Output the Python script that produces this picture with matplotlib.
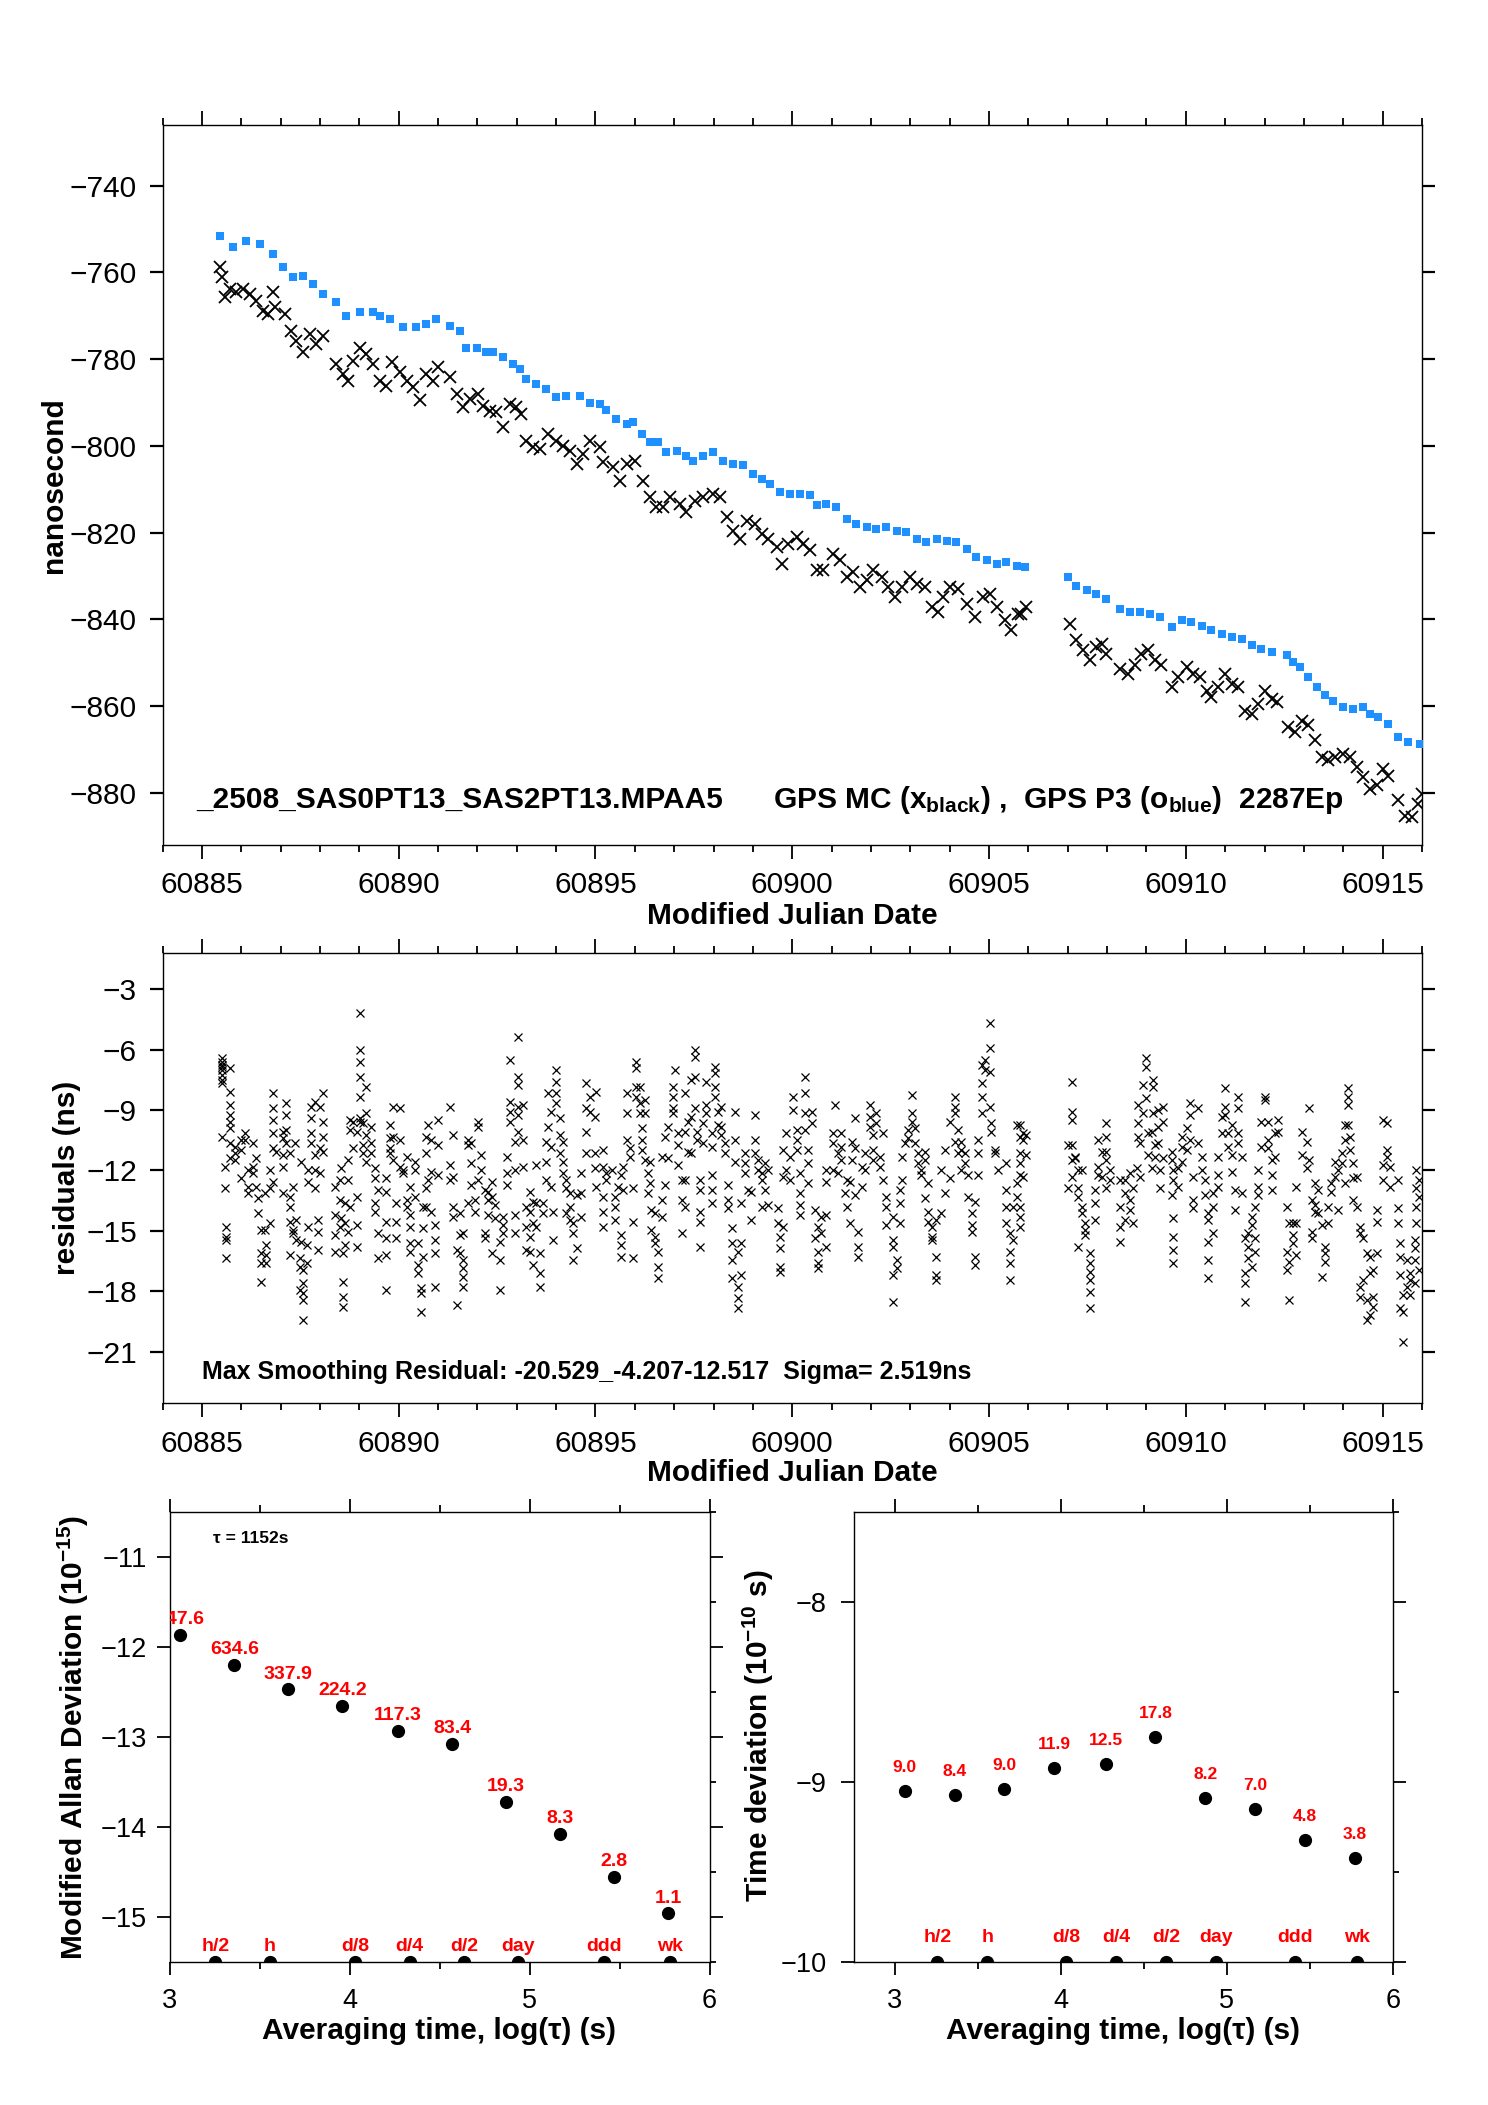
import matplotlib
matplotlib.use('Agg')
import matplotlib.pyplot as plt
from matplotlib.ticker import MultipleLocator
import numpy as np

plt.rcParams['font.family'] = ['Liberation Sans', 'DejaVu Sans']
plt.rcParams['mathtext.fontset'] = 'custom'
plt.rcParams['mathtext.rm'] = 'Liberation Sans'
plt.rcParams['mathtext.bf'] = 'Liberation Sans:bold'
plt.rcParams['mathtext.it'] = 'Liberation Sans:italic'
plt.rcParams['axes.unicode_minus'] = True

# ---------------- data: top panel (time differences, ns) ----------------
blue_mjd = [60885.45, 60885.79, 60886.13, 60886.47, 60886.81, 60887.06, 60887.32, 60887.57, 60887.82, 60888.08,
            60888.42, 60888.67, 60889.01, 60889.35, 60889.52, 60889.77, 60890.11, 60890.45, 60890.70, 60890.96,
            60891.30, 60891.55, 60891.72, 60891.98, 60892.23, 60892.40, 60892.65, 60892.91, 60893.08, 60893.24,
            60893.50, 60893.75, 60894.01, 60894.26, 60894.60, 60894.86, 60895.11,
            60895.28, 60895.53, 60895.79, 60895.96, 60896.17, 60896.38, 60896.59, 60896.80, 60897.06, 60897.31,
            60897.48, 60897.74, 60897.99, 60898.24, 60898.50, 60898.75, 60899.01, 60899.22, 60899.43, 60899.68,
            60899.94, 60900.19, 60900.45, 60900.62, 60900.87, 60901.12, 60901.38, 60901.63, 60901.89, 60902.14,
            60902.39, 60902.65, 60902.90, 60903.16, 60903.41, 60903.67, 60903.92, 60904.17, 60904.43, 60904.68,
            60904.94, 60905.19, 60905.44, 60905.70,
            60905.91,
            60907.01, 60907.22, 60907.48, 60907.73, 60907.98, 60908.32, 60908.58, 60908.83, 60909.09, 60909.34,
            60909.64, 60909.89, 60910.14, 60910.40, 60910.65, 60910.91, 60911.16, 60911.42, 60911.67, 60911.92,
            60912.18, 60912.56, 60912.73, 60912.90, 60913.11, 60913.32, 60913.53, 60913.75, 60914.00, 60914.25,
            60914.51, 60914.68, 60914.89, 60915.14, 60915.40, 60915.65, 60915.95]
blue_ns = [-751.5, -754.2, -752.7, -753.4, -755.8, -758.8, -761.1, -760.7, -762.7, -765.0,
           -766.9, -770.0, -769.2, -769.2, -770.0, -770.7, -772.6, -772.6, -771.9, -770.7,
           -772.3, -773.4, -777.3, -777.3, -778.4, -778.4, -779.6, -781.1, -782.3, -784.6,
           -785.7, -786.9, -788.8, -788.4, -788.4, -790.0, -790.3,
           -791.8, -793.8, -794.9, -794.5, -797.2, -799.1, -799.1, -801.4, -801.1, -802.2,
           -803.4, -802.2, -801.4, -803.4, -804.1, -804.5, -806.4, -807.6, -808.7, -810.7,
           -811.1, -811.1, -811.4, -813.7, -813.3, -814.1, -816.8, -817.9, -818.7, -819.1,
           -818.7, -819.5, -819.9, -821.4, -822.2, -821.4, -821.8, -822.2, -823.7, -825.6,
           -826.4, -827.2, -826.8, -827.6,
           -827.9,
           -830.2, -832.2, -833.3, -834.1, -835.2, -837.5, -838.3, -838.3, -838.7, -839.5,
           -841.8, -840.2, -840.6, -841.4, -842.5, -843.3, -844.1, -844.5, -846.0, -846.8,
           -847.5, -848.3, -849.8, -851.0, -853.3, -855.6, -857.5, -858.7, -860.2, -860.6,
           -860.2, -861.7, -862.5, -864.0, -867.1, -868.3, -868.7]

black_mjd = [60885.45, 60885.50, 60885.58, 60885.71, 60885.88, 60886.05, 60886.22, 60886.38, 60886.55, 60886.68,
             60886.81, 60886.85, 60887.10, 60887.27, 60887.40, 60887.57, 60887.74, 60887.91, 60888.08, 60888.42,
             60888.59, 60888.71, 60888.84, 60889.01, 60889.18, 60889.35, 60889.52, 60889.69, 60889.82, 60890.03,
             60890.20, 60890.37, 60890.54, 60890.70, 60890.87, 60891.00, 60891.30, 60891.47, 60891.64, 60891.81,
             60892.02, 60892.14, 60892.31, 60892.48, 60892.65, 60892.82, 60892.99, 60893.12, 60893.24, 60893.42,
             60893.58, 60893.80, 60894.01, 60894.18, 60894.35, 60894.52, 60894.69, 60894.86, 60895.11,
             60895.19, 60895.45, 60895.62, 60895.79, 60896.00, 60896.21, 60896.38, 60896.55, 60896.72, 60896.89,
             60897.14, 60897.31, 60897.52, 60897.73, 60897.99, 60898.16, 60898.33, 60898.50, 60898.67, 60898.84,
             60899.05, 60899.22, 60899.39, 60899.60, 60899.73, 60899.90, 60900.11, 60900.28, 60900.45, 60900.62,
             60900.78, 60901.04, 60901.21, 60901.38, 60901.55, 60901.72, 60901.89, 60902.06, 60902.27, 60902.44,
             60902.61, 60902.78, 60902.99, 60903.16, 60903.37, 60903.54, 60903.71, 60903.84, 60904.00, 60904.22,
             60904.43, 60904.64, 60904.85, 60905.02, 60905.19, 60905.40, 60905.57, 60905.74, 60905.82, 60905.95,
             60907.05, 60907.22, 60907.39, 60907.56, 60907.73, 60907.86, 60907.98, 60908.32, 60908.54, 60908.70,
             60908.87, 60909.04, 60909.21, 60909.38, 60909.64, 60909.81, 60910.02, 60910.19, 60910.36, 60910.53,
             60910.65, 60910.82, 60910.99, 60911.16, 60911.33, 60911.50, 60911.67, 60911.84, 60912.01, 60912.18,
             60912.31, 60912.60, 60912.77, 60912.94, 60913.11, 60913.28, 60913.45, 60913.62, 60913.79, 60914.00,
             60914.17, 60914.34, 60914.51, 60914.68, 60914.85, 60915.02, 60915.14, 60915.40, 60915.57, 60915.74,
             60915.91, 60915.99]
black_ns = [-758.8, -761.1, -765.7, -763.8, -764.6, -763.8, -765.0, -766.5, -768.8, -769.6,
            -764.6, -768.0, -769.6, -773.4, -775.7, -778.4, -774.2, -776.5, -774.6, -781.1,
            -783.4, -785.0, -780.3, -777.3, -778.8, -781.1, -785.0, -786.1, -780.7, -783.0,
            -785.0, -786.5, -789.5, -783.4, -785.0, -781.9, -784.2, -788.0, -791.1, -789.2,
            -788.0, -790.7, -791.9, -792.2, -795.7, -790.3, -791.1, -792.6, -798.8, -800.3,
            -800.7, -797.2, -798.8, -799.9, -801.1, -804.1, -801.8, -798.8, -800.3,
            -803.7, -804.9, -808.0, -804.1, -803.4, -808.0, -811.8, -814.1, -814.1, -811.8,
            -813.4, -815.3, -812.6, -811.8, -811.0, -811.8, -816.4, -819.5, -821.4, -817.2,
            -817.9, -820.3, -821.4, -823.3, -827.2, -822.6, -821.0, -822.6, -824.1, -828.7,
            -828.7, -824.9, -826.4, -830.3, -829.1, -832.5, -831.0, -828.7, -830.3, -832.5,
            -834.9, -832.5, -830.3, -831.8, -832.5, -837.2, -838.3, -834.9, -832.5, -832.9,
            -836.4, -839.5, -834.9, -834.1, -837.2, -840.2, -842.5, -838.7, -838.7, -837.2,
            -841.0, -844.8, -847.1, -849.4, -846.4, -845.6, -847.9, -851.4, -852.5, -850.6,
            -847.9, -847.1, -849.4, -850.6, -855.6, -853.3, -851.0, -852.5, -853.3, -856.4,
            -857.9, -855.6, -852.5, -854.8, -855.6, -861.0, -861.7, -859.4, -856.4, -858.3,
            -859.1, -864.8, -866.0, -863.3, -864.4, -867.9, -871.7, -872.5, -871.7, -871.0,
            -871.7, -874.0, -876.3, -879.0, -878.2, -874.4, -876.0, -881.7, -885.2, -885.5,
            -882.5, -880.2]

# ---------------- data: middle panel (residuals, ns), grouped by epoch column ----------------
resid_col_mjd = [
    60885.50, 60885.58, 60885.62, 60885.71, 60885.83, 60886.00, 60886.09, 60886.17, 60886.30, 60886.38,
    60886.43, 60886.51, 60886.60, 60886.64, 60886.72, 60886.81, 60886.89, 60887.06, 60887.15, 60887.23,
    60887.32, 60887.36, 60887.40, 60887.49, 60887.53, 60887.57, 60887.66, 60887.70, 60887.78, 60887.87,
    60887.95, 60887.99, 60888.08, 60888.38, 60888.50, 60888.54, 60888.59, 60888.63, 60888.71, 60888.76,
    60888.84, 60888.93, 60889.01, 60889.10, 60889.18, 60889.31, 60889.39, 60889.48, 60889.69, 60889.77,
    60889.86, 60889.94, 60890.03, 60890.11, 60890.20, 60890.28, 60890.41, 60890.49, 60890.58, 60890.62,
    60890.70, 60890.75, 60890.83, 60890.92, 60891.00, 60891.30, 60891.38, 60891.47, 60891.55, 60891.64,
    60891.76, 60891.85, 60891.93, 60892.02, 60892.10, 60892.19, 60892.27, 60892.36, 60892.44, 60892.57,
    60892.65, 60892.74, 60892.82, 60892.95, 60893.03, 60893.16, 60893.24, 60893.33, 60893.42, 60893.50,
    60893.58, 60893.67, 60893.75, 60893.80, 60893.88, 60893.92, 60894.01, 60894.09, 60894.18, 60894.26,
    60894.35, 60894.43, 60894.52, 60894.64, 60894.77, 60894.86, 60894.98, 60895.02,
    60895.19, 60895.28, 60895.41, 60895.49, 60895.57, 60895.66, 60895.70, 60895.79, 60895.87, 60895.96,
    60896.04, 60896.13, 60896.17, 60896.25, 60896.34, 60896.38, 60896.42, 60896.51, 60896.59, 60896.68,
    60896.76, 60896.85, 60896.97, 60897.02, 60897.10, 60897.19, 60897.27, 60897.35, 60897.44, 60897.52,
    60897.57, 60897.65, 60897.73, 60897.82, 60897.95, 60898.03, 60898.12, 60898.20, 60898.29, 60898.37,
    60898.46, 60898.54, 60898.62, 60898.71, 60898.79, 60898.88, 60898.96, 60899.05, 60899.13, 60899.22,
    60899.30, 60899.39, 60899.64, 60899.68, 60899.77, 60899.85, 60899.94, 60900.02, 60900.11, 60900.19,
    60900.32, 60900.40, 60900.49, 60900.57, 60900.66, 60900.74, 60900.87, 60901.04, 60901.08, 60901.17,
    60901.25, 60901.34, 60901.38, 60901.46, 60901.51, 60901.59, 60901.67, 60901.76, 60901.84, 60901.97,
    60902.06, 60902.14, 60902.23, 60902.31, 60902.39, 60902.56, 60902.65, 60902.73, 60902.78, 60902.86,
    60902.94, 60903.03, 60903.11, 60903.20, 60903.28, 60903.37, 60903.45, 60903.54, 60903.66, 60903.79,
    60903.88, 60904.00, 60904.13, 60904.22, 60904.30, 60904.39, 60904.47, 60904.56, 60904.64, 60904.73,
    60904.81, 60904.89, 60905.02, 60905.06, 60905.15, 60905.23, 60905.44, 60905.53, 60905.61, 60905.70,
    60905.78, 60905.87, 60905.95,
    60907.01, 60907.10, 60907.18, 60907.27, 60907.35, 60907.43, 60907.56, 60907.69, 60907.77, 60907.86,
    60907.98, 60908.07, 60908.32, 60908.45, 60908.58, 60908.66, 60908.75, 60908.79, 60908.83, 60908.92,
    60909.00, 60909.04, 60909.13, 60909.17, 60909.21, 60909.30, 60909.34, 60909.42, 60909.64, 60909.68,
    60909.81, 60909.89, 60910.02, 60910.10, 60910.19, 60910.31, 60910.40, 60910.48, 60910.57, 60910.70,
    60910.82, 60910.91, 60910.99, 60911.08, 60911.16, 60911.25, 60911.33, 60911.42, 60911.50, 60911.59,
    60911.67, 60911.75, 60911.84, 60911.92, 60912.01, 60912.09, 60912.18, 60912.26, 60912.35, 60912.56,
    60912.63, 60912.73, 60912.81, 60912.94, 60913.07, 60913.14, 60913.20, 60913.28, 60913.36, 60913.45,
    60913.53, 60913.62, 60913.70, 60913.79, 60913.87, 60913.96, 60914.04, 60914.13, 60914.17, 60914.25,
    60914.34, 60914.42, 60914.51, 60914.59, 60914.68, 60914.76, 60914.85, 60915.02, 60915.10, 60915.19,
    60915.40, 60915.44, 60915.52, 60915.61, 60915.69, 60915.82, 60915.86, 60915.93]
resid_col_ns = [
    [-6.43, -6.60, -6.76, -6.84, -7.01, -7.26, -7.50, -7.67, -10.32], [-11.81, -12.89], [-14.79, -15.29, -15.45, -16.36],
    [-6.92, -8.08, -8.75, -9.24, -9.57, -9.90, -10.65, -11.40], [-10.82, -11.15, -11.48], [-10.49, -10.98, -12.39],
    [-10.15, -10.49], [-11.98, -12.80, -13.13], [-11.81, -12.14, -10.65], [-11.40, -12.80],
    [-13.38, -14.13], [-14.95, -16.11, -16.61, -17.52], [-13.13, -14.95], [-15.70, -16.20, -16.61], [-11.98, -12.89, -14.62],
    [-8.17, -8.91, -9.49, -10.15, -10.90, -12.55], [-11.07], [-10.07, -10.40, -11.23, -11.81, -13.13],
    [-8.66, -9.24, -9.99, -10.65], [-11.15, -13.30, -13.80, -14.54, -16.20],
    [-12.80, -14.95, -15.12], [-10.65], [-14.46, -15.45], [-16.36, -16.78, -17.93], [-11.56, -15.53],
    [-16.94, -17.60, -18.10, -18.43, -19.43], [-15.70, -16.61], [-11.98, -12.55, -14.79], [-8.83, -9.41, -10.15, -10.65],
    [-8.58, -11.23, -11.98, -12.89],
    [-14.46, -15.04, -15.95], [-8.83, -10.90, -12.14], [-8.17, -9.57, -10.32, -11.07], [-12.80, -14.21, -15.20, -16.03],
    [-12.47, -13.47, -14.79], [-11.89, -14.37], [-16.11, -17.52, -18.27, -18.76], [-13.63, -14.62, -15.70],
    [-11.48, -12.47, -15.04], [-9.49, -9.99, -13.80],
    [-9.57, -10.90], [-10.07, -13.30, -14.71, -15.78], [-4.19, -6.02, -6.59, -7.34, -8.33, -9.41, -9.57],
    [-9.66, -10.73, -11.15], [-7.84, -9.16, -10.24, -11.56], [-9.82, -10.65, -11.15], [-11.89, -12.39, -13.63, -14.04],
    [-12.97, -15.12, -16.36], [-12.39, -13.05, -14.54, -15.37, -16.20, -17.93], [-9.74, -10.40, -10.90, -11.15],
    [-8.83, -10.32, -11.48], [-13.63, -14.54, -15.37], [-8.91, -10.49, -11.81], [-11.98, -12.14], [-11.31, -13.47, -13.80],
    [-12.80, -14.21, -14.79, -15.62, -16.03], [-11.56, -11.98, -13.30], [-15.62, -16.69, -17.11], [-17.85, -18.10, -19.01],
    [-13.80, -14.87, -16.28],
    [-10.32, -11.15, -12.89, -13.80], [-9.74, -12.47], [-10.49, -12.06, -14.04], [-14.71, -15.45, -16.11, -17.77],
    [-9.49, -10.73, -12.22], [-8.83, -11.73, -12.47], [-10.24, -12.31, -13.80, -14.29], [-15.95, -18.68],
    [-14.13, -15.20, -16.11], [-15.12, -16.44, -16.86, -17.27, -17.77],
    [-10.49, -10.73, -13.63], [-10.65, -11.64, -12.72], [-13.47, -14.04], [-9.57, -9.82, -12.47], [-11.23, -11.98],
    [-12.97, -15.12, -15.37], [-13.05, -13.47, -14.21], [-12.55, -13.30, -16.11], [-13.71, -14.37], [-15.53, -16.44, -17.93],
    [-14.29, -14.71, -15.12], [-11.31, -12.14, -12.72], [-6.51, -8.58, -9.08, -9.57], [-10.57, -11.98, -14.21, -15.12],
    [-5.35, -7.34, -7.75, -8.83, -9.24, -10.07], [-8.75, -10.49, -11.81], [-13.80, -14.79, -15.95],
    [-13.05, -14.04, -15.29, -16.03], [-13.55, -14.62, -16.69], [-11.73, -13.63, -14.79],
    [-16.11, -17.11, -17.77], [-13.63, -14.13], [-10.57, -11.56, -12.47], [-8.17, -9.82], [-9.08, -10.82, -12.80],
    [-14.04, -15.45], [-7.01, -7.59, -8.17, -8.66], [-9.41, -10.24, -11.15], [-10.57, -11.56, -12.14], [-12.47, -12.89, -14.13],
    [-13.13, -13.80, -14.46], [-14.62, -15.12, -16.44], [-13.22, -15.87], [-12.14, -13.13, -14.29],
    [-7.67, -8.91, -10.07, -11.15], [-8.33, -9.08], [-9.33, -11.15, -11.89], [-8.08, -12.80],
    [-10.98, -11.81, -13.30, -14.04, -14.79], [-12.14, -12.47], [-11.98], [-13.30, -13.80, -14.46], [-12.80],
    [-12.22, -15.20, -15.70, -16.28], [-11.81, -12.97], [-8.17, -9.16, -10.49], [-10.90, -11.31], [-12.89, -14.54, -16.36],
    [-6.59, -6.92, -7.84, -8.33], [-8.66, -9.16, -7.84], [-9.90, -10.49, -10.98], [-8.50, -9.16, -11.48], [-12.14, -13.13],
    [-11.56, -12.64], [-13.96, -14.95], [-14.13, -15.29, -15.62], [-16.03, -16.78, -17.36], [-11.31, -13.47, -14.29],
    [-10.32, -12.72], [-9.82, -11.40], [-7.84, -8.33, -8.91, -9.16], [-7.01], [-10.15, -10.73, -11.73],
    [-12.47, -13.47, -15.12], [-8.17, -10.07, -12.47, -13.80], [-9.57, -11.07], [-7.50, -9.33, -11.15],
    [-6.02, -6.35, -7.34, -8.91],
    [-10.07, -10.49], [-12.47, -12.97, -14.04, -14.54, -15.78], [-10.65, -9.66], [-7.59, -8.75, -9.16],
    [-10.15, -10.82, -12.22, -12.97, -13.63], [-6.84, -7.17, -7.84, -8.33], [-9.08, -9.74], [-8.83, -9.82, -10.24],
    [-10.65, -11.15], [-12.72, -13.47, -13.88],
    [-14.87, -15.62, -16.44, -17.36], [-10.49, -9.08, -11.56], [-16.03, -17.77, -18.35, -18.85], [-15.62, -17.19, -13.63],
    [-11.15, -11.64, -12.14], [-12.97], [-14.46, -13.05], [-9.24, -10.49, -11.15], [-11.48, -11.98], [-12.14, -13.80, -12.47],
    [-11.64, -12.97], [-11.98, -13.71], [-13.88, -14.62], [-15.29, -15.87, -16.78, -17.02], [-10.98, -12.31, -14.79],
    [-10.15, -11.98], [-11.31, -12.47], [-8.33, -8.99], [-9.99, -10.49, -10.98], [-12.14, -13.71, -14.21, -13.13],
    [-7.34, -8.17, -9.16, -9.99], [-10.98, -11.64, -12.64], [-9.08, -9.66], [-13.96, -15.37], [-14.79, -16.03, -16.61, -16.86],
    [-14.29, -15.12], [-11.98, -12.55, -14.21, -15.78], [-10.15, -10.65, -11.98], [-8.75], [-12.14, -11.15],
    [-10.15, -10.82, -11.48], [-13.13], [-12.47, -13.80], [-14.62, -12.55], [-10.57, -11.48],
    [-9.41, -10.90, -13.22], [-15.04, -15.78, -16.28], [-11.81, -12.80], [-11.15, -11.98], [-9.82, -8.75, -9.33],
    [-10.24, -10.98, -11.48], [-9.66, -9.16], [-11.31, -11.81], [-10.15, -12.47], [-13.30, -13.80, -14.71],
    [-14.29, -15.45, -15.78, -17.19, -18.51], [-16.44, -16.86], [-12.97, -13.63, -14.62], [-11.31, -12.47], [-10.65],
    [-9.99, -10.40], [-8.25, -9.16, -9.57], [-10.65, -9.90], [-11.15, -11.64], [-11.98, -12.22],
    [-11.07, -11.48, -13.38], [-12.64, -14.04, -14.54], [-14.79, -15.29, -15.45], [-16.28, -17.19, -17.44, -14.46],
    [-11.98, -14.13],
    [-10.98, -13.13], [-9.57, -12.39], [-8.33, -8.83, -9.16, -10.57], [-9.99, -11.15], [-10.57, -10.98, -11.98],
    [-11.15, -11.64], [-12.22, -13.30], [-14.13, -14.71, -15.04], [-13.55, -16.28, -16.69], [-10.49, -11.15, -12.22],
    [-6.76, -7.67, -8.33, -9.16], [-6.51, -7.01], [-4.69, -5.93, -7.09, -8.83], [-9.66, -10.07], [-10.98, -11.15],
    [-11.98], [-11.64, -12.97, -13.80, -14.62], [-15.12, -16.03, -16.61, -17.44], [-13.80, -15.45], [-12.64, -13.30, -9.74],
    [-9.74, -10.32, -11.15, -11.64, -12.22, -13.80, -14.29, -14.79], [-10.15, -10.49, -12.31], [-10.24, -11.23],
    [-10.73, -12.89], [-7.59, -9.08, -9.49, -10.73, -11.48, -12.31], [-11.31, -11.40], [-11.98, -12.89, -13.30, -15.78],
    [-11.98, -13.80, -14.13], [-14.62, -14.95, -15.20], [-16.11, -16.61, -17.02, -17.44, -18.02, -18.85],
    [-13.63, -14.46, -12.97], [-10.49, -11.81, -12.22], [-11.07, -12.31],
    [-9.66, -10.32, -11.07, -11.48, -12.89], [-11.98, -12.47], [-12.47, -13.80, -14.79, -15.53], [-12.47, -13.13, -14.46],
    [-12.14, -13.47, -13.96], [-12.89, -14.62], [-11.89], [-8.75, -9.66, -10.32], [-12.31, -10.65], [-7.75, -9.16],
    [-6.43, -6.84, -8.42], [-10.15, -11.23], [-11.89, -10.07], [-7.50, -7.84, -9.16], [-10.73, -11.31],
    [-8.99, -9.82, -10.65], [-11.98, -12.89], [-8.83, -9.57, -11.40], [-11.07, -11.48, -13.22],
    [-11.98, -12.47, -14.37, -15.29, -15.95, -16.61],
    [-11.89, -12.80], [-10.82, -10.32, -11.56], [-9.90, -10.98], [-8.66, -9.24, -10.49], [-12.31, -13.47, -13.88],
    [-8.91, -10.65], [-11.31, -11.98], [-12.47, -13.22], [-14.13, -14.46, -15.53, -16.44, -17.36], [-15.12, -13.80, -13.13],
    [-11.31, -12.22, -12.80], [-9.33, -10.15], [-7.92, -8.83, -9.24], [-10.15, -10.82], [-9.74, -11.23, -12.06],
    [-12.97, -13.96], [-8.33, -8.91, -10.15, -10.65], [-11.31, -13.13], [-15.37, -17.11, -17.60, -18.51], [-15.12, -15.78, -16.36],
    [-14.71, -14.29, -16.78], [-13.80, -15.37, -16.03], [-11.98, -12.80, -13.22], [-9.57, -10.82], [-8.33, -8.50],
    [-9.57, -10.49, -10.90], [-11.48, -12.22, -12.97], [-10.15, -11.31], [-9.49, -10.07], [-13.80, -16.03, -16.94],
    [-18.43, -14.62, -16.53], [-14.62, -15.20, -15.62], [-12.80, -14.62, -16.20], [-10.07, -11.23], [-10.57, -11.89],
    [-8.91, -11.48], [-13.47, -15.04, -15.37], [-12.64, -13.71, -14.04], [-12.97, -14.13], [-14.71, -17.27],
    [-15.78, -16.11, -16.53], [-13.80, -14.62], [-12.64, -13.05], [-11.56, -12.31], [-11.98, -13.96],
    [-11.64, -11.15], [-9.74, -10.49, -12.64], [-7.92, -8.33, -8.75, -9.74], [-10.32, -10.98], [-11.64, -12.39, -13.47],
    [-12.31, -13.80], [-14.79, -15.12, -17.77, -18.27], [-15.37, -17.44], [-16.11, -18.43, -19.43], [-16.28, -17.11, -19.18],
    [-16.94, -18.27, -18.76], [-16.11, -14.54, -13.96], [-9.49, -11.73, -12.47], [-9.66, -10.98, -11.31], [-11.81, -12.80],
    [-12.47, -13.88, -14.62], [-15.62, -16.28, -17.19, -18.85], [-19.01, -20.50, -18.18], [-16.44, -17.77],
    [-17.11, -17.44, -18.18], [-15.45, -15.87, -16.44, -17.60], [-11.98, -12.89, -13.80, -14.62], [-12.47, -13.30, -16.94]]

# ---------------- data: bottom panels ----------------
log_tau = [3.06, 3.36, 3.66, 3.96, 4.27, 4.57, 4.87, 5.17, 5.47, 5.77]
mdev_log = [-11.87, -12.20, -12.47, -12.65, -12.93, -13.08, -13.72, -14.08, -14.55, -14.96]
mdev_labels = ['347.6', '634.6', '337.9', '224.2', '117.3', '83.4', '19.3', '8.3', '2.8', '1.1']
tdev_log = [-9.05, -9.07, -9.04, -8.92, -8.90, -8.75, -9.09, -9.15, -9.32, -9.42]
tdev_labels = ['9.0', '8.4', '9.0', '11.9', '12.5', '17.8', '8.2', '7.0', '4.8', '3.8']
mark_log = [3.255, 3.556, 4.033, 4.334, 4.635, 4.937, 5.414, 5.782]
mark_labels = ['h/2', 'h', 'd/8', 'd/4', 'd/2', 'day', 'ddd', 'wk']

# ---------------- figure ----------------
W, H = 1488, 2105
fig = plt.figure(figsize=(W / 100, H / 100), dpi=100)


def axes_px(l, t, r, b):
    return fig.add_axes([l / W, 1 - b / H, (r - l) / W, (b - t) / H])


ax1 = axes_px(162.5, 125, 1422, 845)
ax2 = axes_px(162.5, 953.3, 1422, 1403.4)
ax3 = axes_px(169.5, 1512, 709.5, 1962)
ax4 = axes_px(853.5, 1512, 1392.7, 1962)

BLUE = '#1E90FF'
RED = '#FF0000'

for ax in (ax1, ax2, ax3, ax4):
    for sp in ax.spines.values():
        sp.set_linewidth(1.0)

# ---- top panel
ax1.scatter(blue_mjd, blue_ns, marker='s', s=38, color=BLUE, linewidths=0, zorder=3)
ax1.plot(black_mjd, black_ns, linestyle='none', marker='x', markersize=9, markeredgewidth=1.3,
         color='black', zorder=2)
ax1.set_xlim(60884, 60916)
ax1.set_ylim(-892, -726)
ax1.yaxis.set_major_locator(MultipleLocator(20))

# ---- middle panel
r_x, r_y = [], []
for m, vals in zip(resid_col_mjd, resid_col_ns):
    for v in vals:
        r_x.append(m)
        r_y.append(v)
ax2.plot(r_x, r_y, linestyle='none', marker='x', markersize=5.5, markeredgewidth=0.9, color='black')
ax2.set_xlim(60884, 60916)
ax2.set_ylim(-23.57, -1.21)
ax2.yaxis.set_major_locator(MultipleLocator(3))

for ax in (ax1, ax2):
    ax.xaxis.set_major_locator(MultipleLocator(5))
    ax.xaxis.set_minor_locator(MultipleLocator(1))
    ax.ticklabel_format(axis='x', useOffset=False, style='plain')
    ax.tick_params(axis='x', which='major', direction='out', length=10, width=1.3, top=True, bottom=True,
                   labelsize=21.5, pad=9)
    ax.tick_params(axis='x', which='minor', direction='out', length=5, width=1.3, top=True, bottom=True)
    ax.tick_params(axis='y', which='major', direction='out', length=9.5, width=1.6, left=True, right=True,
                   labelsize=21.5, pad=9)

fig.text(196 / W, 1 - 808 / H, '_2508_SAS0PT13_SAS2PT13.MPAA5', fontsize=21.5, fontweight='bold',
         ha='left', va='baseline')
fig.text(773 / W, 1 - 808 / H,
         r'GPS MC (x$_{\mathbf{black}}$) ,  GPS P3 (o$_{\mathbf{blue}}$)  2287Ep',
         fontsize=21.5, fontweight='bold', ha='left', va='baseline')
fig.text(202 / W, 1 - 1379 / H, 'Max Smoothing Residual: -20.529_-4.207-12.517  Sigma= 2.519ns',
         fontsize=18, fontweight='bold', ha='left', va='baseline')

fig.text(792 / W, 1 - 924 / H, 'Modified Julian Date', fontsize=21.5, fontweight='bold',
         ha='center', va='baseline')
fig.text(792 / W, 1 - 1481 / H, 'Modified Julian Date', fontsize=21.5, fontweight='bold',
         ha='center', va='baseline')
fig.text(62 / W, 1 - 485 / H, 'nanosecond', fontsize=21.5, fontweight='bold', rotation=90,
         rotation_mode='anchor', ha='center', va='baseline')
fig.text(75 / W, 1 - 1178 / H, 'residuals (ns)', fontsize=21.5, fontweight='bold', rotation=90,
         rotation_mode='anchor', ha='center', va='baseline')

# ---- bottom-left: MDEV
ax3.plot(log_tau, mdev_log, linestyle='none', marker='o', markersize=8.5, color='black', zorder=3)
for x, y, s in zip(log_tau, mdev_log, mdev_labels):
    ax3.text(x, y + 0.17, s, color=RED, fontsize=14, fontweight='bold', ha='center', va='center', clip_on=True)
ax3.plot(mark_log, [-15.5] * len(mark_log), linestyle='none', marker='o', markersize=8.5, color='black',
         clip_on=True, zorder=3)
for x, s in zip(mark_log, mark_labels):
    ax3.text(x, -15.5 + 0.173, s, color=RED, fontsize=14, fontweight='bold', ha='center', va='center')
ax3.set_xlim(3, 6)
ax3.set_ylim(-15.5, -10.5)
fig.text(213 / W, 1 - 1543 / H, 'τ = 1152s', fontsize=12.5, fontweight='bold', ha='left', va='baseline')

# ---- bottom-right: TDEV
ax4.plot(log_tau, tdev_log, linestyle='none', marker='o', markersize=8.5, color='black', zorder=3)
for x, y, s in zip(log_tau, tdev_log, tdev_labels):
    ax4.text(x, y + 0.13, s, color=RED, fontsize=12.5, fontweight='bold', ha='center', va='center', clip_on=True)
ax4.plot(mark_log, [-10.0] * len(mark_log), linestyle='none', marker='o', markersize=8.5, color='black',
         clip_on=True, zorder=3)
for x, s in zip(mark_log, mark_labels):
    ax4.text(x, -10.0 + 0.135, s, color=RED, fontsize=14, fontweight='bold', ha='center', va='center')
ax4.set_xlim(2.75, 6)
ax4.set_ylim(-10, -7.5)

for ax, ypad in ((ax3, 7), (ax4, 9.6)):
    ax.xaxis.set_major_locator(MultipleLocator(1))
    ax.xaxis.set_minor_locator(MultipleLocator(0.5))
    ax.yaxis.set_major_locator(MultipleLocator(1))
    ax.yaxis.set_minor_locator(MultipleLocator(0.5))
    ax.tick_params(axis='x', which='major', direction='out', length=9.5, width=1.3, top=True, bottom=True,
                   labelsize=19.5, pad=9)
    ax.tick_params(axis='x', which='minor', direction='out', length=4.7, width=1.3, top=True, bottom=True)
    ax.tick_params(axis='y', which='major', direction='out', length=9.5, width=1.3, left=True, right=True,
                   labelsize=19.5, pad=ypad)
    ax.tick_params(axis='y', which='minor', direction='out', length=4.5, width=1.3, left=False, right=True)

fig.text(439.5 / W, 1 - 2039 / H, 'Averaging time, log(τ) (s)', fontsize=21.5, fontweight='bold',
         ha='center', va='baseline')
fig.text(1123 / W, 1 - 2039 / H, 'Averaging time, log(τ) (s)', fontsize=21.5, fontweight='bold',
         ha='center', va='baseline')
fig.text(83 / W, 1 - 1737 / H, r'Modified Allan Deviation (10$^{\mathbf{-15}}$)', fontsize=21.5,
         fontweight='bold', rotation=90, rotation_mode='anchor', ha='center', va='baseline')
fig.text(768 / W, 1 - 1736 / H, r'Time deviation (10$^{\mathbf{-10}}$ s)', fontsize=21.5,
         fontweight='bold', rotation=90, rotation_mode='anchor', ha='center', va='baseline')

fig.savefig('out.png', dpi=100, facecolor='white')
